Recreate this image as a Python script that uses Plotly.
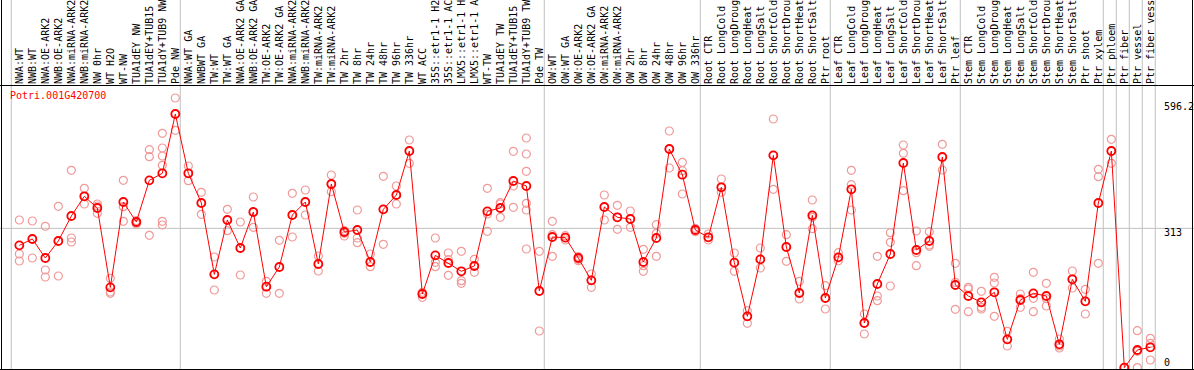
import plotly.graph_objects as go

categories = [
    "NWA:WT", "NWB:WT", "NWA:OE-ARK2", "NWB:OE-ARK2", "NWA:miRNA-ARK2", "NWB:miRNA-ARK2",
    "NW 0hr", "WT H2O", "WT-NW", "TUA1dEY NW", "TUA1dEY+TUB15 NW", "TUA1dY+TUB9 NW", "Pde NW",
    "NWA:WT GA", "NWBWT GA", "TW:WT", "TW:WT GA", "NWA:OE-ARK2 GA", "NWB:OE-ARK2 GA",
    "TW:OE-ARK2", "TW:OE-ARK2 GA", "NWA:miRNA-ARK2 GA", "NWB:miRNA-ARK2 GA", "TW:miRNA-ARK2",
    "TW:miRNA-ARK2 GA", "TW 2hr", "TW 8hr", "TW 24hr", "TW 48hr", "TW 96hr", "TW 336hr",
    "WT ACC", "35S::etr1-1 H2O", "35S::etr1-1 ACC", "LMX5::etr1-1 H2O", "LMX5::etr1-1 ACC",
    "WT-TW", "TUA1dEY TW", "TUA1dEY+TUB15 TW", "TUA1dY+TUB9 TW", "Pde TW",
    "OW:WT", "OW:WT GA", "OW:OE-ARK2", "OW:OE-ARK2 GA", "OW:miRNA-ARK2", "OW:miRNA-ARK2 GA",
    "OW 2hr", "OW 8hr", "OW 24hr", "OW 48hr", "OW 96hr", "OW 336hr",
    "Root CTR", "Root LongCold", "Root LongDrought", "Root LongHeat", "Root LongSalt",
    "Root ShortCold", "Root ShortDrought", "Root ShortHeat", "Root ShortSalt", "Ptr root",
    "Leaf CTR", "Leaf LongCold", "Leaf LongDrought", "Leaf LongHeat", "Leaf LongSalt",
    "Leaf ShortCold", "Leaf ShortDrought", "Leaf ShortHeat", "Leaf ShortSalt", "Ptr leaf",
    "Stem CTR", "Stem LongCold", "Stem LongDrought", "Stem LongHeat", "Stem LongSalt",
    "Stem ShortCold", "Stem ShortDrought", "Stem ShortHeat", "Stem ShortSalt", "Ptr shoot",
    "Ptr xylem", "Ptr phloem", "Ptr fiber", "Ptr vessel", "Ptr fiber vessel",
]

mean_values = [
    274.8, 289.1, 246.3, 284.6, 340.7, 385.0, 358.7, 180.4, 372.2, 327.3, 420.9, 436.7, 570.0,
    436.7, 370.0, 209.6, 331.8, 268.8, 349.7, 181.9, 226.1, 343.0, 372.2, 232.9, 412.7, 304.8,
    309.3, 237.4, 355.7, 387.9, 486.8, 165.4, 252.3, 235.1, 216.4, 228.4, 351.2, 358.7, 419.4,
    408.2, 172.2,
    293.5, 292.1, 246.3, 196.1, 361.0, 337.8, 334.0, 237.4, 291.3, 491.3, 433.6, 309.3,
    292.8, 405.2, 235.9, 115.2, 243.3, 477.1, 271.1, 167.7, 342.2, 156.4,
    247.8, 400.7, 100.2, 187.9, 255.3, 459.9, 264.3, 284.6, 473.4, 185.7,
    160.9, 146.7, 169.2, 63.5, 151.9, 166.9, 160.9, 52.3, 198.4, 148.9, 370.0,
    486.8, 0.0, 39.6, 45.6,
]

replicates = [
    [331.8, 255.3, 239.6], [329.5, 289.1, 246.3], [317.5, 219.4, 203.6], [362.5, 284.6, 205.9],
    [443.4, 291.3, 282.3], [402.9, 384.2, 367.7], [367.7, 363.2, 346.7], [200.6, 169.9, 166.9],
    [421.0, 361.7, 328.8], [330.3, 325.8, 322.8], [489.8, 474.1, 297.3],
    [526.6, 493.6, 475.6, 454.6, 328.8, 320.5], [606.0, 570.0, 533.3],
    [453.1, 436.7, 420.2], [393.9, 370.0, 344.5], [248.6, 209.6, 174.4], [355.7, 331.8, 307.8],
    [327.3, 268.8, 208.1], [383.5, 349.7, 315.3], [193.9, 181.9, 166.9], [286.1, 226.1, 166.9],
    [391.7, 343.0, 293.5], [399.2, 372.2, 343.0], [250.8, 232.9, 217.1], [432.9, 412.7, 395.4],
    [307.8, 301.8, 295.8], [354.2, 291.3, 280.8], [255.3, 237.4, 226.9], [429.9, 355.7, 277.1],
    [408.2, 387.9, 367.7], [511.6, 486.8, 459.1], [169.2, 165.4, 157.9], [291.3, 236.6, 226.9],
    [257.6, 242.6, 207.4], [261.3, 195.4, 189.4], [243.3, 228.4, 214.1], [402.9, 345.2, 306.3],
    [370.7, 367.7, 337.8], [486.1, 408.2, 360.2],
    [516.1, 480.1, 441.2, 369.2, 354.2, 266.6], [261.3, 172.2, 82.3],
    [328.8, 298.8, 250.1], [296.5, 292.1, 286.8], [249.3, 243.3, 240.4], [210.4, 196.1, 180.4],
    [387.9, 361.0, 331.8], [364.7, 337.8, 310.8], [352.0, 334.0, 315.3], [265.8, 229.1, 216.4],
    [321.3, 301.8, 250.1], [531.8, 491.3, 448.6], [461.4, 442.7, 390.2], [313.0, 309.3, 305.5],
    [300.3, 292.8, 286.8], [423.9, 405.2, 393.9], [257.6, 235.9, 216.4], [128.0, 115.2, 99.5],
    [268.8, 243.3, 223.9], [558.8, 477.1, 400.7], [298.8, 271.1, 238.9], [193.9, 167.7, 154.2],
    [376.7, 337.8, 312.3], [184.2, 156.4, 131.7],
    [258.3, 247.8, 240.2], [443.4, 411.2, 354.2], [120.5, 100.2, 75.5], [250.1, 160.9, 150.4],
    [303.3, 281.6, 183.4], [500.3, 481.6, 397.7], [307.0, 258.3, 229.1], [305.5, 275.6, 272.6],
    [501.8, 473.4, 444.1], [234.4, 191.7, 131.0],
    [180.4, 176.7, 125.7], [171.4, 135.5, 131.7], [202.9, 190.2, 115.2], [81.5, 63.5, 48.6],
    [165.4, 154.9, 135.5], [214.1, 155.7, 125.7], [189.4, 154.9, 138.5], [64.3, 48.6, 44.1],
    [217.1, 198.4, 178.9], [175.9, 148.9, 120.5], [445.6, 429.2, 234.4],
    [513.1, 486.8, 459.1], [0.0, 0.0, 0.0], [83.0, 36.6, 0.0], [65.8, 54.5, 17.1],
]

group_starts = [0, 13, 41, 53, 63, 73, 84, 85, 86, 87, 88]
y_tick_values = [0, 313, 596.2]
y_tick_labels = ["0", "313", "596.2"]
gene_id = "Potri.001G420700"

W, H = 1194, 370
ML, MR, MT, MB = 1, 1, 85, 1
PW, PH = W - ML - MR, H - MT - MB
PX_PER_CAT = 13.0
FIRST_X = 19.33
x0 = -(FIRST_X - ML) / PX_PER_CAT
x1 = x0 + PW / PX_PER_CAT
PX_PER_UNIT = 0.4449
ZERO_Y = 367.6
y1 = (ZERO_Y - MT) / PX_PER_UNIT
y0 = y1 - PH / PX_PER_UNIT

FONT = "DejaVu Sans Mono"
idx = list(range(len(categories)))

rep_x = [i for i, r in zip(idx, replicates) for _ in r]
rep_y = [v for r in replicates for v in r]

fig = go.Figure()
fig.add_trace(go.Scatter(
    x=rep_x, y=rep_y, mode="markers",
    marker=dict(symbol="circle-open", size=8, color="#f09a9a", line=dict(width=1.2, color="#f09a9a")),
    hoverinfo="skip", showlegend=False,
))
fig.add_trace(go.Scatter(
    x=idx, y=mean_values, mode="lines+markers",
    line=dict(color="#ff0000", width=1),
    marker=dict(symbol="circle-open", size=8, color="#ff0000", line=dict(width=1.8, color="#ff0000")),
    showlegend=False,
))

shapes = []
for g in group_starts:
    shapes.append(dict(type="line", xref="x", yref="paper", x0=g - 0.62, x1=g - 0.62,
                       y0=-0.02, y1=(H + 5) / PH, line=dict(color="#c0c0c0", width=1), layer="below"))
shapes.append(dict(type="line", xref="paper", yref="y", x0=-0.01, x1=1.01, y0=313, y1=313,
                   line=dict(color="#c0c0c0", width=1), layer="below"))


def px_x(p):
    return (p - ML) / PW


def px_y(p):
    return (H - MB - p) / PH


black = dict(color="#000000", width=1)
shapes += [
    dict(type="line", xref="paper", yref="paper", x0=px_x(1.5), x1=px_x(1.5), y0=px_y(370), y1=px_y(0), line=black),
    dict(type="line", xref="paper", yref="paper", x0=px_x(1192.5), x1=px_x(1192.5), y0=px_y(370), y1=px_y(0), line=black),
    dict(type="line", xref="paper", yref="paper", x0=px_x(0), x1=px_x(1194), y0=px_y(85.5), y1=px_y(85.5), line=black),
    dict(type="line", xref="paper", yref="paper", x0=px_x(0), x1=px_x(1194), y0=px_y(369.5), y1=px_y(369.5), line=black),
]

annotations = [dict(
    text=gene_id, xref="paper", yref="paper", x=px_x(7.5), y=px_y(87.5), xanchor="left", yanchor="top",
    showarrow=False, font=dict(family=FONT, size=10, color="#ff0000"),
)]
label_x = (1161.5 - FIRST_X) / PX_PER_CAT
for v, t in zip(y_tick_values, y_tick_labels):
    annotations.append(dict(
        text=t, xref="x", yref="y", x=label_x, y=v, xanchor="left",
        yanchor="bottom" if v == 0 else "top", yshift=-2.5 if v == 0 else 3.5,
        showarrow=False, font=dict(family=FONT, size=10, color="#000000"),
    ))

fig.update_layout(
    template="none",
    width=W, height=H,
    margin=dict(l=ML, r=MR, t=MT, b=MB, pad=0),
    paper_bgcolor="white", plot_bgcolor="white",
    font=dict(family=FONT, size=10, color="#000000"),
    xaxis=dict(range=[x0, x1], side="top", tickmode="array", tickvals=idx, ticktext=categories,
               tickangle=-90, ticks="", showgrid=False, zeroline=False, showline=False,
               automargin=False, tickfont=dict(family=FONT, size=10, color="#000000"),
               ticklabelstandoff=0),
    yaxis=dict(range=[y0, y1], showticklabels=False, showgrid=False, zeroline=False,
               showline=False, ticks="", automargin=False),
    shapes=shapes,
    annotations=annotations,
    showlegend=False,
)

fig.write_html(
    "out.html",
    config={"displayModeBar": False},
    post_script="document.body.style.margin='0';document.body.style.overflow='hidden';",
)
